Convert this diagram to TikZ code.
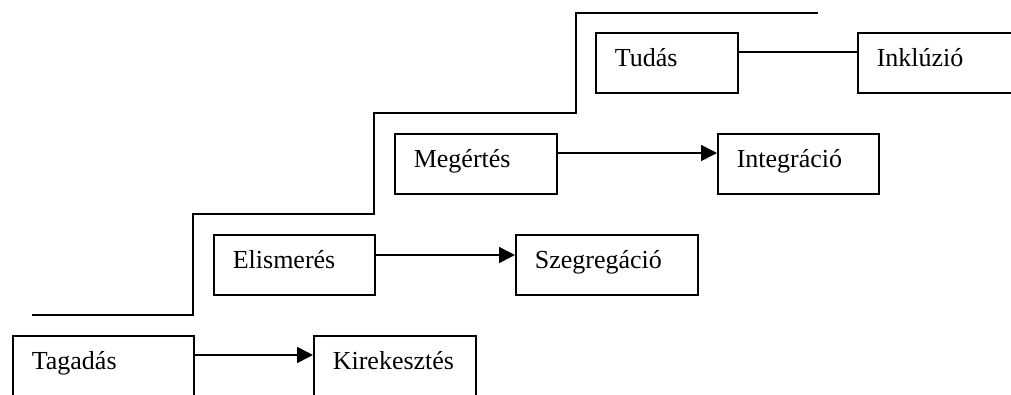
\documentclass[tikz,border=0pt]{standalone}
\usepackage{fontspec}
\setmainfont{Liberation Serif}
\usetikzlibrary{arrows.meta,calc}
\begin{document}
\begin{tikzpicture}[x=1pt,y=-1pt,
  stagebox/.style={draw,line width=1.6pt,anchor=north west,inner xsep=19pt,inner ysep=0pt,
    text height=34pt,text depth=26pt,align=left,font=\fontsize{26}{30}\selectfont},
  conn/.style={line width=1.6pt},
  arr/.style={conn,-{Triangle[length=16pt,width=16pt]}},
  stair/.style={line width=1.6pt}]
\useasboundingbox (0,0) rectangle (1011,394);
% staircase
\draw[stair] (32,315) -- (193,315) -- (193,214) -- (374,214) -- (374,113) -- (576,113) -- (576,13) -- (818,13);
% boxes
\node[stagebox,text width=143pt] (tag) at (12,335) {Tagadás};
\node[stagebox,text width=124pt] (kir) at (313,335) {Kirekesztés};
\node[stagebox,text width=123pt] (eli) at (213,234) {Elismerés};
\node[stagebox,text width=144pt] (sze) at (515,234) {Szegregáció};
\node[stagebox,text width=124pt] (meg) at (394,133) {Megértés};
\node[stagebox,text width=123pt] (int) at (717,133) {Integráció};
\node[stagebox,text width=104pt] (tud) at (595,32) {Tudás};
\node[stagebox,text width=124pt] (ink) at (857,32) {Inklúzió};
% connectors
\draw[arr] ($(tag.north east)+(0,20)$) -- ($(kir.north west)+(0,20)$);
\draw[arr] ($(eli.north east)+(0,21)$) -- ($(sze.north west)+(0,21)$);
\draw[arr] ($(meg.north east)+(0,20)$) -- ($(int.north west)+(0,20)$);
\draw[conn] ($(tud.north east)+(0,20)$) -- ($(ink.north west)+(0,20)$);
\end{tikzpicture}
\end{document}
